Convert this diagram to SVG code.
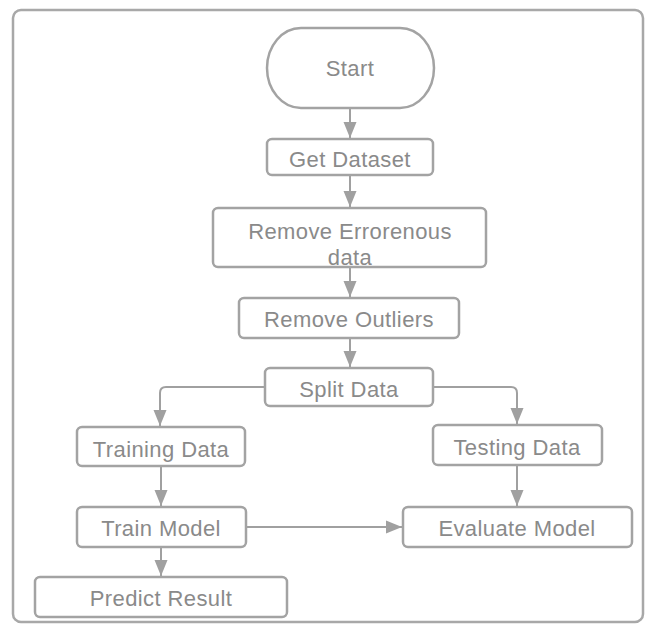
<svg xmlns="http://www.w3.org/2000/svg" width="647" height="624" viewBox="0 0 647 624">
  <style>
    .frame { fill: #ffffff; stroke: #a8a8a8; stroke-width: 2.5; }
    .box { fill: #ffffff; stroke: #a3a3a3; stroke-width: 2.5; }
    .lbl { font-family: "Liberation Sans", Arial, sans-serif; font-size: 22px; fill: #8a8a8a; text-anchor: middle; letter-spacing: 0.4px; }
    .edge { fill: none; stroke: #a0a0a0; stroke-width: 2; }
  </style>
  <defs>
    <marker id="arrow" markerWidth="16" markerHeight="14" refX="16" refY="7" orient="auto" markerUnits="userSpaceOnUse" viewBox="0 0 16 14">
      <path d="M0,0.5 L16,7 L0,13.5 Z" fill="#a0a0a0"/>
    </marker>
  </defs>

  <rect class="frame" x="13" y="10" width="630" height="612" rx="8"/>

  <g id="connectors">
    <path class="edge" d="M350,108 V138" marker-end="url(#arrow)"/>
    <path class="edge" d="M350,175 V207" marker-end="url(#arrow)"/>
    <path class="edge" d="M350,267 V297" marker-end="url(#arrow)"/>
    <path class="edge" d="M350,338 V367" marker-end="url(#arrow)"/>
    <path class="edge" d="M265,387 H166 Q160,387 160,393 V426" marker-end="url(#arrow)"/>
    <path class="edge" d="M433,387 H511 Q517,387 517,393 V424" marker-end="url(#arrow)"/>
    <path class="edge" d="M161,466 V506" marker-end="url(#arrow)"/>
    <path class="edge" d="M517,465 V506" marker-end="url(#arrow)"/>
    <path class="edge" d="M246,527 H402" marker-end="url(#arrow)"/>
    <path class="edge" d="M161,547 V576" marker-end="url(#arrow)"/>
  </g>

  <g id="start">
    <rect class="box" x="267" y="28" width="167" height="80" rx="34" ry="40"/>
    <text class="lbl" x="350" y="76">Start</text>
  </g>
  <g id="get-dataset">
    <rect class="box" x="267" y="139" width="166" height="36" rx="5"/>
    <text class="lbl" x="350" y="167">Get Dataset</text>
  </g>
  <g id="remove-errorenous">
    <rect class="box" x="213" y="208" width="273" height="59" rx="5"/>
    <text class="lbl" x="350" y="239">Remove Errorenous</text>
    <text class="lbl" x="350" y="265">data</text>
  </g>
  <g id="remove-outliers">
    <rect class="box" x="239" y="298" width="220" height="40" rx="5"/>
    <text class="lbl" x="349" y="327">Remove Outliers</text>
  </g>
  <g id="split-data">
    <rect class="box" x="265" y="368" width="168" height="38" rx="5"/>
    <text class="lbl" x="349" y="396.5">Split Data</text>
  </g>
  <g id="training-data">
    <rect class="box" x="77" y="427" width="168" height="39" rx="5"/>
    <text class="lbl" x="161" y="456.5">Training Data</text>
  </g>
  <g id="testing-data">
    <rect class="box" x="433" y="425" width="169" height="40" rx="5"/>
    <text class="lbl" x="517" y="454.5">Testing Data</text>
  </g>
  <g id="train-model">
    <rect class="box" x="77" y="507" width="169" height="40" rx="5"/>
    <text class="lbl" x="161" y="536">Train Model</text>
  </g>
  <g id="evaluate-model">
    <rect class="box" x="403" y="507" width="229" height="40" rx="5"/>
    <text class="lbl" x="517" y="536">Evaluate Model</text>
  </g>
  <g id="predict-result">
    <rect class="box" x="35" y="577" width="252" height="40" rx="5"/>
    <text class="lbl" x="161" y="606">Predict Result</text>
  </g>
</svg>
